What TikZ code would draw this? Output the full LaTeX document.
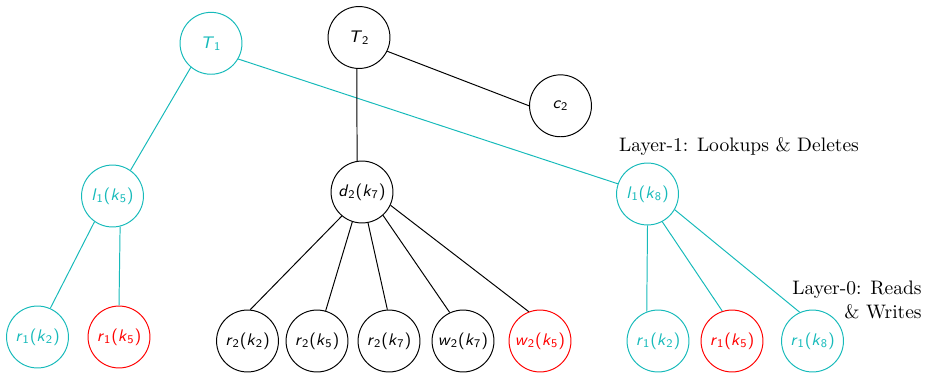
\documentclass[tikz,border=0pt]{standalone}
\usepackage{xcolor}
\definecolor{tealc}{RGB}{22,186,186}
\newcommand{\ivar}[2]{\textit{#1}\textsubscript{#2}}
\newcommand{\opk}[3]{\ivar{#1}{#2}(\ivar{k}{#3})}
\tikzset{
  txnode/.style={circle, draw, line width=0.5pt, minimum size=31.7pt, inner sep=0pt,
    font=\sffamily\fontsize{8.6}{10}\selectfont},
  cyn/.style={txnode, draw=tealc, text=tealc},
  rd/.style={txnode, draw=red, text=red},
  blk/.style={txnode, draw=black, text=black},
  cedge/.style={draw=tealc, line width=0.5pt},
  bedge/.style={draw=black, line width=0.5pt},
  layerlbl/.style={font=\normalsize, inner sep=0pt}
}
\begin{document}
\begin{tikzpicture}[x=0.512pt, y=-0.512pt]
\useasboundingbox (0,0) rectangle (927,372);

% roots
\node[cyn] (T1) at (211,43.3) {\ivar{T}{1}};
\node[blk] (T2) at (359,37.5) {\ivar{T}{2}};
\node[blk] (c2) at (560.5,105.8) {\ivar{c}{2}};

% layer 1
\node[cyn] (l15) at (112.5,196) {\opk{l}{1}{5}};
\node[blk] (d27) at (362,192) {\opk{d}{2}{7}};
\node[cyn] (l18) at (647.5,194) {\opk{l}{1}{8}};

% layer 0
\node[cyn] (r12a) at (37.5,337) {\opk{r}{1}{2}};
\node[rd]  (r15a) at (119,337) {\opk{r}{1}{5}};
\node[blk] (r22) at (247.5,341) {\opk{r}{2}{2}};
\node[blk] (r25) at (317,341) {\opk{r}{2}{5}};
\node[blk] (r27) at (389,341) {\opk{r}{2}{7}};
\node[blk] (w27) at (463,341) {\opk{w}{2}{7}};
\node[rd]  (w25) at (540,341) {\opk{w}{2}{5}};
\node[cyn] (r12b) at (658,341) {\opk{r}{1}{2}};
\node[rd]  (r15b) at (732,341) {\opk{r}{1}{5}};
\node[cyn] (r18) at (812.5,341) {\opk{r}{1}{8}};

% layer captions
\node[layerlbl] (cap1) at (739,147) {Layer-1: Lookups \& Deletes};
\node[layerlbl, align=right, anchor=east] (cap0) at (922,300) {Layer-0: Reads\\\& Writes};

% edges of T1
\draw[cedge] (T1.230) -- (l15.55);
\draw[cedge] (T1.-30) -- (l18.161);
\draw[cedge] (l15.235.7) -- (r12a.66.5);
\draw[cedge] (l15.-76) -- (r15a.north);
\draw[cedge] (l18.270) -- (r12b.111);
\draw[cedge] (l18.-62.7) -- (r15b.108.4);
\draw[cedge] (l18.-30.2) -- (r18.114.3);

% edges of T2
\draw[bedge] (T2.-26) -- (c2.west);
\draw[bedge] (T2.266) -- (d27.99);
\draw[bedge] (d27.230) -- (r22.85);
\draw[bedge] (d27.252.6) -- (r25.74.7);
\draw[bedge] (d27.281.4) -- (r27.93);
\draw[bedge] (d27.312.8) -- (w27.115.7);
\draw[bedge] (d27.335.5) -- (w25.111.6);
\end{tikzpicture}
\end{document}
